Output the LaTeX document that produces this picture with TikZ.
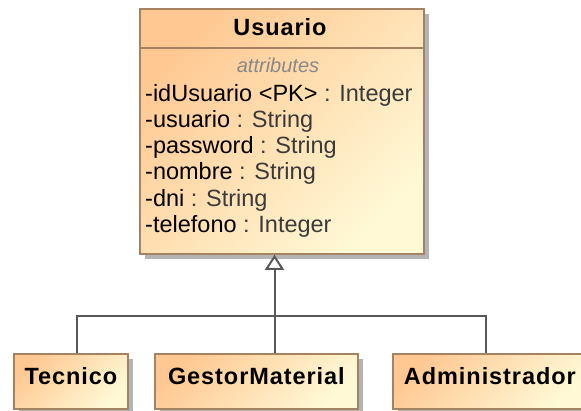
\documentclass[tikz,border=0pt]{standalone}
\usepackage{fontspec}
\setmainfont{Liberation Sans}
\usetikzlibrary{arrows.meta,shadows}
\definecolor{peach}{HTML}{FFC892}
\definecolor{cream}{HTML}{FFF9D6}
\definecolor{boxborder}{HTML}{A58262}
\definecolor{shadowgray}{HTML}{B4B4B4}
\definecolor{linegray}{HTML}{585858}
\definecolor{typegray}{HTML}{3A3A3A}
\definecolor{stereogray}{HTML}{888888}
\newcommand\tyname[1]{\textcolor{typegray}{#1}}
\tikzset{
  classbox/.style={draw=boxborder, line width=1.8pt, rectangle, inner sep=0pt,
    top color=peach, bottom color=cream, shading angle=45,
    drop shadow={shadow xshift=5pt, shadow yshift=-5pt, fill=shadowgray, opacity=1},
    anchor=north west},
  classname/.style={font=\fontsize{23.5}{27}\selectfont\bfseries\addfontfeature{LetterSpace=4}},
  smallbox/.style={classbox, classname, minimum height=55pt, text height=17pt, text depth=11pt},
  attr/.style={anchor=base west, inner sep=0pt, font=\fontsize{23.5}{27}\selectfont},
  conn/.style={draw=linegray, line width=2pt},
}
\begin{document}
\begin{tikzpicture}[x=1pt,y=-1pt]
\clip (0,0) rectangle (581,411);
\fill[white] (0,0) rectangle (581,411);
% superclass
\node[classbox, minimum width=284pt, minimum height=245pt] (usuario) at (139,8) {};
\draw[draw=boxborder, line width=1.8pt] (usuario.north west) ++(0,40) coordinate (hl) -- (hl -| usuario.east);
\node[classname, anchor=base, inner sep=0pt] (utitle) at (280,36) {Usuario};
\node[anchor=base, inner sep=0pt, text=stereogray, font=\fontsize{20}{24}\selectfont\itshape] (ster) at (278,73) {attributes};
\node[attr] (a1) at (145,102) {-idUsuario <PK> \tyname{: Integer}};
\node[attr] (a2) at (145,128) {-usuario \tyname{: String}};
\node[attr] (a3) at (145,154) {-password \tyname{: String}};
\node[attr] (a4) at (145,180) {-nombre \tyname{: String}};
\node[attr] (a5) at (145,207) {-dni \tyname{: String}};
\node[attr] (a6) at (145,233) {-telefono \tyname{: Integer}};
% subclasses
\node[smallbox, minimum width=114pt] (tec) at (13,353) {Tecnico};
\node[smallbox, minimum width=203pt] (gm) at (154,353) {GestorMaterial};
\node[smallbox, minimum width=194pt] (adm) at (392,353) {Administrador};
% generalization
\coordinate (jl) at (77,316);
\coordinate (jm) at (274.5,316);
\coordinate (jr) at (486,316);
\draw[conn] (jl |- tec.north) -- (jl) -- (jr) -- (jr |- adm.north);
\draw[conn, -{Triangle[open, length=15pt, width=19pt, fill=white]}] (jm |- gm.north) -- (jm |- usuario.south);
\end{tikzpicture}
\end{document}
